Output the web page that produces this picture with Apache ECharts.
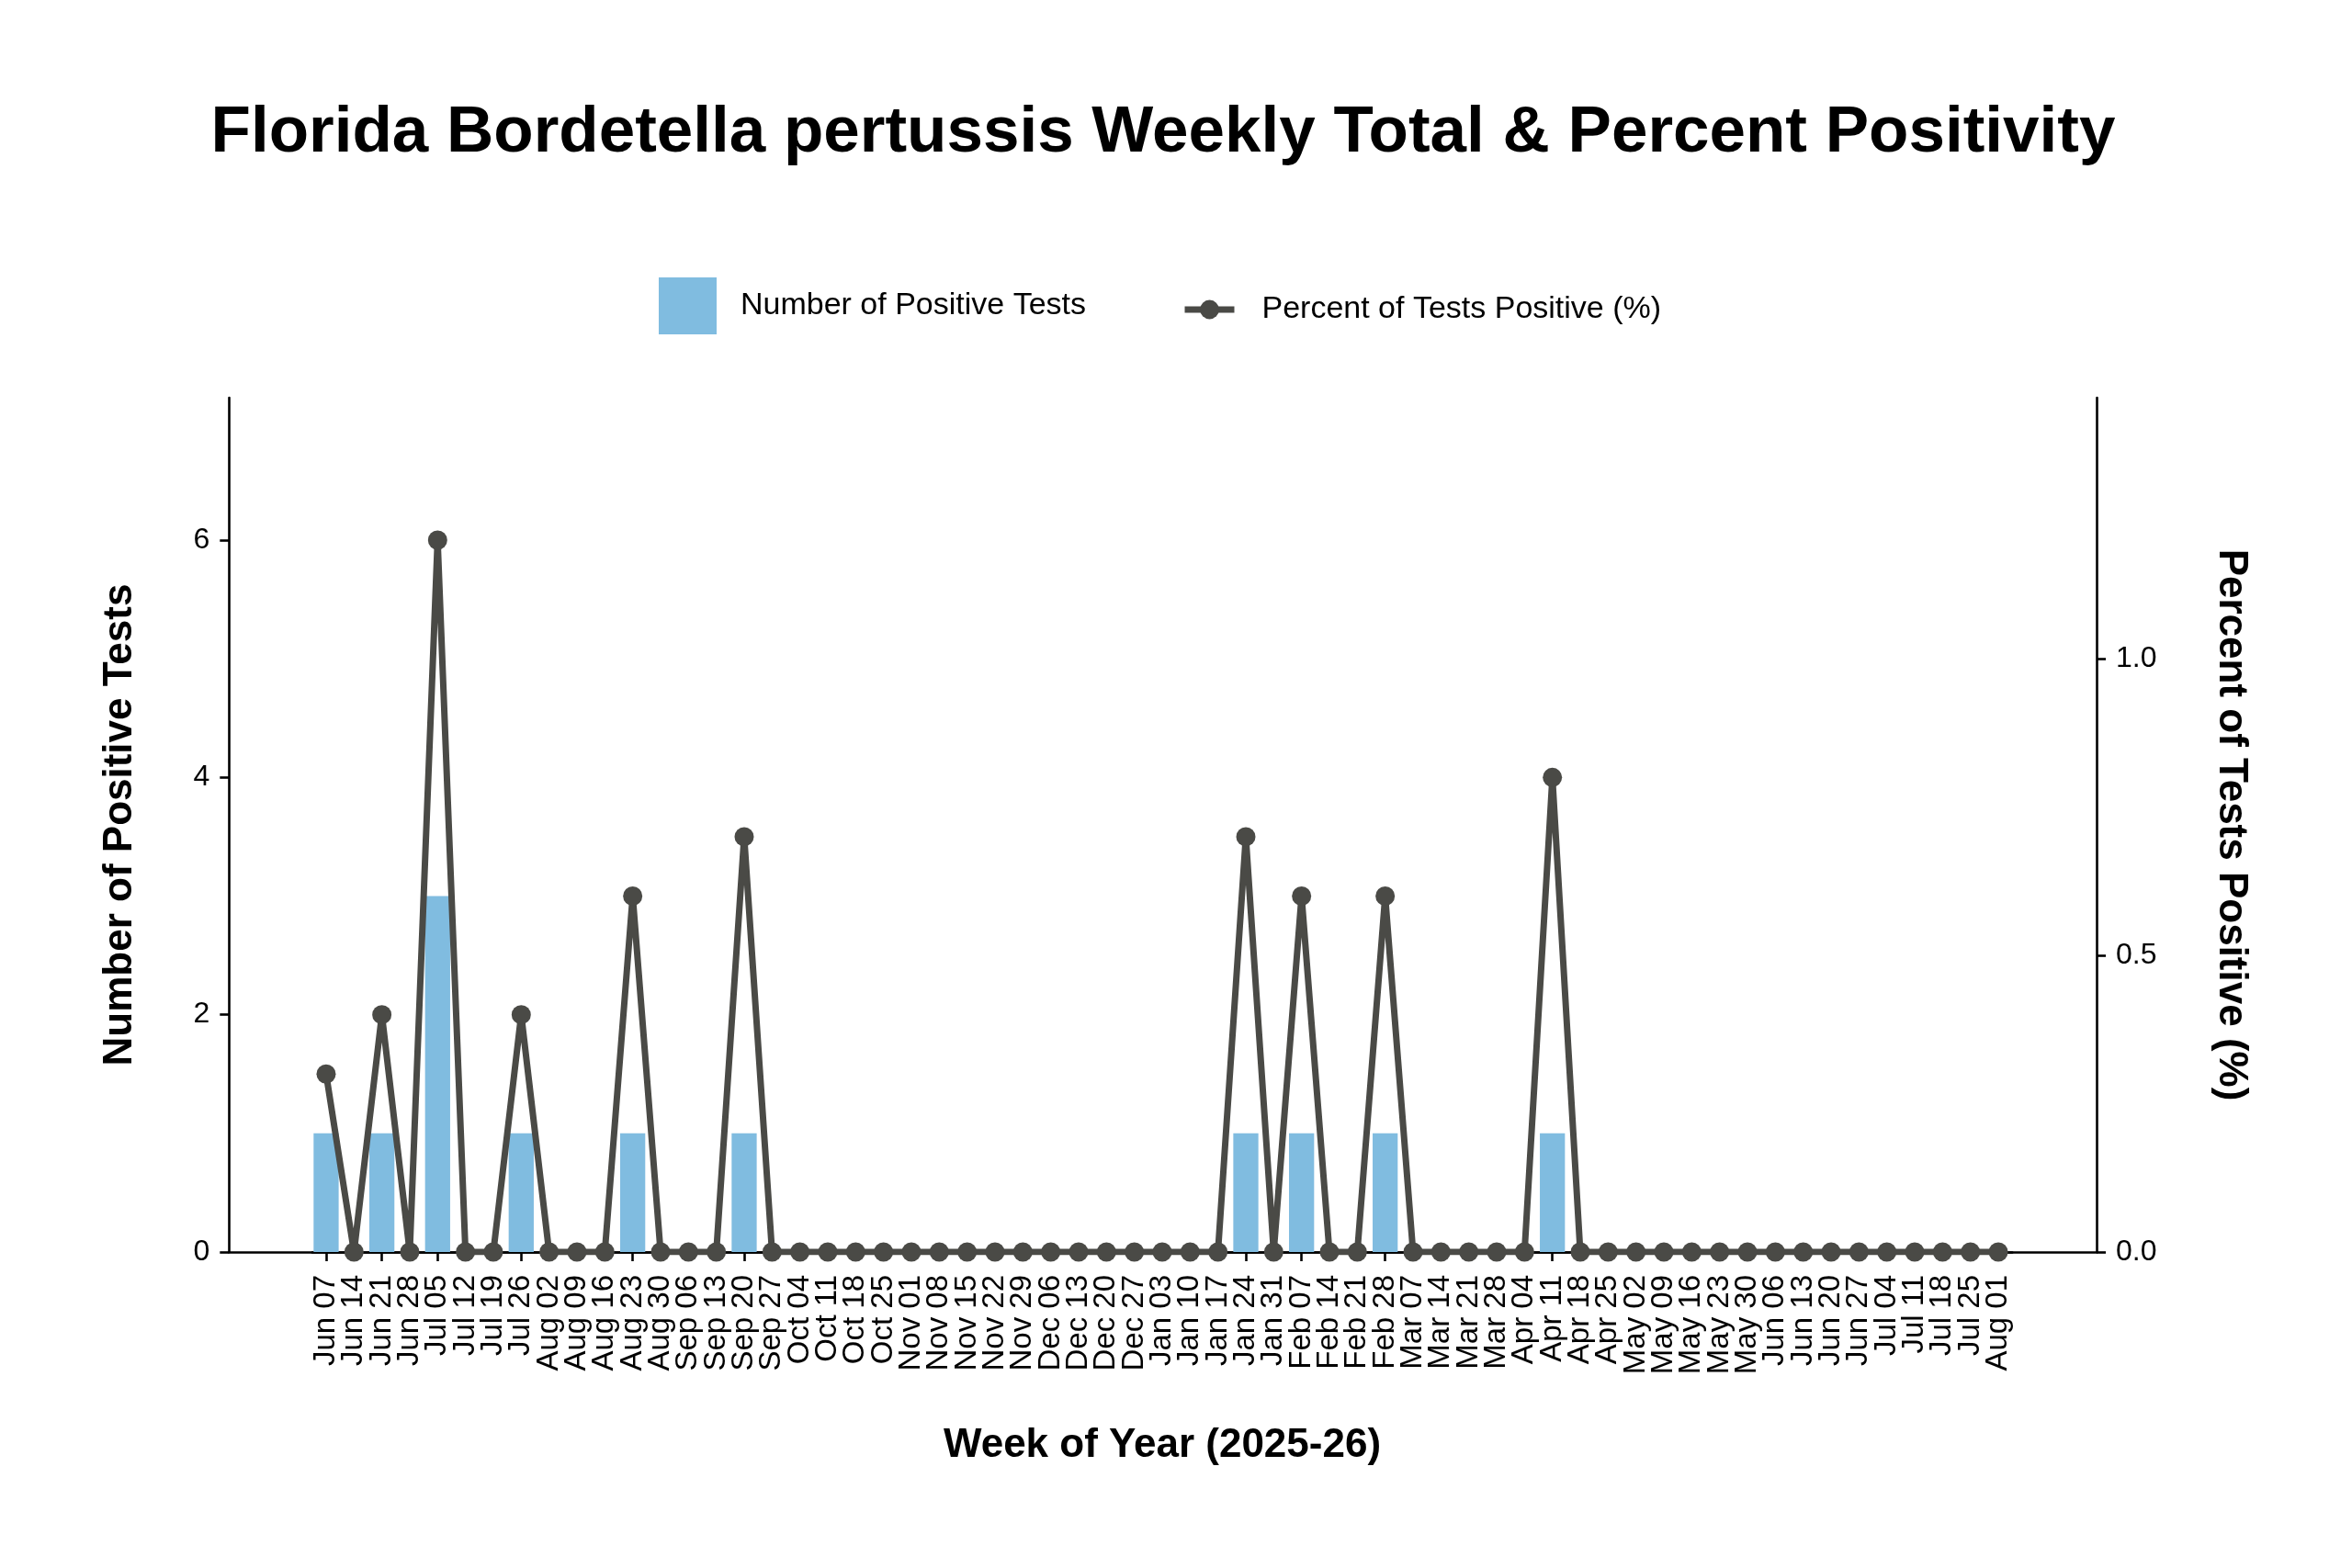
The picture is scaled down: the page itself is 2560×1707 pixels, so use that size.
<!DOCTYPE html>
<html>
<head>
<meta charset="utf-8">
<script src="https://cdn.jsdelivr.net/npm/echarts@6/dist/echarts.min.js"></script>
<style>html,body{margin:0;padding:0;background:#fff;}#c{width:2560px;height:1707px;}</style>
</head>
<body>
<div id="c"></div>
<script>
const weeks = ['Jun 07','Jun 14','Jun 21','Jun 28','Jul 05','Jul 12','Jul 19','Jul 26','Aug 02','Aug 09','Aug 16','Aug 23','Aug 30','Sep 06','Sep 13','Sep 20','Sep 27','Oct 04','Oct 11','Oct 18','Oct 25','Nov 01','Nov 08','Nov 15','Nov 22','Nov 29','Dec 06','Dec 13','Dec 20','Dec 27','Jan 03','Jan 10','Jan 17','Jan 24','Jan 31','Feb 07','Feb 14','Feb 21','Feb 28','Mar 07','Mar 14','Mar 21','Mar 28','Apr 04','Apr 11','Apr 18','Apr 25','May 02','May 09','May 16','May 23','May 30','Jun 06','Jun 13','Jun 20','Jun 27','Jul 04','Jul 11','Jul 18','Jul 25','Aug 01'];
const positiveTests = [1,0,1,0,3,0,0,1,0,0,0,1,0,0,0,1,0,0,0,0,0,0,0,0,0,0,0,0,0,0,0,0,0,1,0,1,0,0,1,0,0,0,0,0,1,0,0,0,0,0,0,0,0,0,0,0,0,0,0,0,0];
const percentPositive = [0.3,0,0.4,0,1.2,0,0,0.4,0,0,0,0.6,0,0,0,0.7,0,0,0,0,0,0,0,0,0,0,0,0,0,0,0,0,0,0.7,0,0.6,0,0,0.6,0,0,0,0,0,0.8,0,0,0,0,0,0,0,0,0,0,0,0,0,0,0,0];
const leftTicks = [0,2,4,6];
const rightTicks = [0,0.5,1.0];

const FONT = 'Liberation Sans, Arial, sans-serif';
const lineColor = '#4a4a46';
const barColor = '#80bce0';

const chart = echarts.init(document.getElementById('c'), null, {renderer:'canvas'});
chart.setOption({
  animation: false,
  backgroundColor: '#ffffff',
  textStyle: {fontFamily: FONT},
  title: {
    text: 'Florida Bordetella pertussis Weekly Total & Percent Positivity',
    left: 1266, top: 110, padding: 0, textAlign: 'center',
    textStyle: {fontFamily: FONT, fontSize: 71, fontWeight: 'bold', color: '#000'}
  },
  legend: [
    {
      data: [{name: 'Number of Positive Tests', icon: 'rect'}],
      left: 717, top: 302, padding: 0,
      itemWidth: 63, itemHeight: 62, selectedMode: false,
      textStyle: {fontFamily: FONT, fontSize: 34, color: '#000', padding: [4,0,0,21]}
    },
    {
      data: ['Percent of Tests Positive (%)'],
      left: 1286, top: 320, padding: 0,
      itemWidth: 54, itemHeight: 26, selectedMode: false,
      lineStyle: {width: 7, color: lineColor},
      itemStyle: {color: lineColor},
      textStyle: {fontFamily: FONT, fontSize: 34, color: '#000', padding: [0,0,0,25]}
    }
  ],
  grid: [
    {left: 249.3, right: 278, top: 433, bottom: 344},
    {left: 339.8, right: 369.8, top: 433, bottom: 344}
  ],
  xAxis: [
    {
      gridIndex: 0, type: 'value', min: 0, max: 1,
      axisLine: {show: true, lineStyle: {color: '#000', width: 2.6}},
      axisTick: {show: false}, axisLabel: {show: false}, splitLine: {show: false}
    },
    {
      gridIndex: 1, type: 'category', data: weeks, boundaryGap: true,
      axisLine: {show: true, lineStyle: {color: '#000', width: 2.6}},
      axisTick: {show: true, alignWithLabel: true, interval: 0, length: 10, lineStyle: {color: '#000', width: 2.6}},
      axisLabel: {interval: 0, rotate: 90, margin: 25, fontFamily: FONT, fontSize: 33, color: '#000'},
      splitLine: {show: false},
      name: 'Week of Year (2025-26)', nameLocation: 'middle', nameGap: 189,
      nameTextStyle: {fontFamily: FONT, fontSize: 44, fontWeight: 'bold', color: '#000'}
    }
  ],
  yAxis: [
    {gridIndex: 0, type: 'value', min: 0, max: 1, show: false},
    {
      gridIndex: 1, type: 'value', position: 'left', offset: 90.5,
      min: 0, max: 7.2,
      axisLine: {show: true, lineStyle: {color: '#000', width: 2.6}},
      axisTick: {show: true, length: 10, customValues: leftTicks, lineStyle: {color: '#000', width: 2.6}},
      axisLabel: {customValues: leftTicks, margin: 21, fontFamily: FONT, fontSize: 32, color: '#000'},
      splitLine: {show: false},
      name: 'Number of Positive Tests', nameLocation: 'middle', nameRotate: 90, nameGap: 96,
      nameTextStyle: {fontFamily: FONT, fontSize: 44, fontWeight: 'bold', color: '#000'}
    },
    {
      gridIndex: 1, type: 'value', position: 'right', offset: 91.8,
      min: 0, max: 1.44,
      axisLine: {show: true, lineStyle: {color: '#000', width: 2.6}},
      axisTick: {show: true, length: 10, customValues: rightTicks, lineStyle: {color: '#000', width: 2.6}},
      axisLabel: {customValues: rightTicks, margin: 21, fontFamily: FONT, fontSize: 32, color: '#000',
        formatter: v => Number(v).toFixed(1)},
      splitLine: {show: false},
      name: 'Percent of Tests Positive (%)', nameLocation: 'middle', nameRotate: -90, nameGap: 124,
      nameTextStyle: {fontFamily: FONT, fontSize: 44, fontWeight: 'bold', color: '#000'}
    }
  ],
  series: [
    {
      name: 'Number of Positive Tests', type: 'bar',
      xAxisIndex: 1, yAxisIndex: 1,
      data: positiveTests, barWidth: '90%',
      itemStyle: {color: barColor}, z: 2
    },
    {
      name: 'Percent of Tests Positive (%)', type: 'line',
      xAxisIndex: 1, yAxisIndex: 2,
      data: percentPositive,
      symbol: 'circle', symbolSize: 21, showAllSymbol: true,
      lineStyle: {color: lineColor, width: 7},
      itemStyle: {color: lineColor},
      z: 3
    }
  ]
});
</script>
</body>
</html>
